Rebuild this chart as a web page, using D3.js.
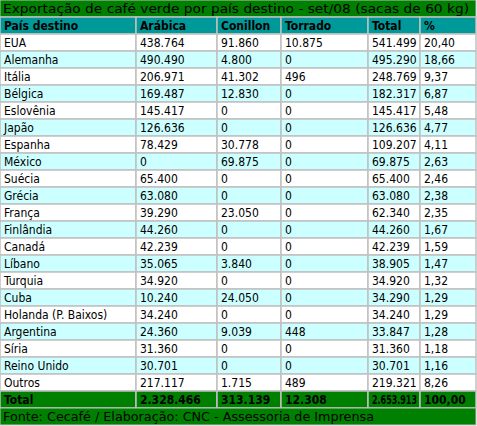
<!DOCTYPE html><html><head><meta charset="utf-8"><script src="https://cdn.jsdelivr.net/npm/d3@7"></script>
<style>body{margin:0;background:#fff}</style></head><body><svg id="c" width="477" height="426"></svg><script>
const title="Exportação de café verde por país destino - set/08 (sacas de 60 kg)";
const headers=["País destino","Arábica","Conillon","Torrado","Total","%"];
const countries=["EUA","Alemanha","Itália","Bélgica","Eslovênia","Japão","Espanha","México","Suécia","Grécia","França","Finlândia","Canadá","Líbano","Turquia","Cuba","Holanda (P. Baixos)","Argentina","Síria","Reino Unido","Outros"];
const arabica=["438.764","490.490","206.971","169.487","145.417","126.636","78.429","0","65.400","63.080","39.290","44.260","42.239","35.065","34.920","10.240","34.240","24.360","31.360","30.701","217.117"];
const conillon=["91.860","4.800","41.302","12.830","0","0","30.778","69.875","0","0","23.050","0","0","3.840","0","24.050","0","9.039","0","0","1.715"];
const torrado=["10.875","0","496","0","0","0","0","0","0","0","0","0","0","0","0","0","0","448","0","0","489"];
const total=["541.499","495.290","248.769","182.317","145.417","126.636","109.207","69.875","65.400","63.080","62.340","44.260","42.239","38.905","34.920","34.290","34.240","33.847","31.360","30.701","219.321"];
const pct=["20,40","18,66","9,37","6,87","5,48","4,77","4,11","2,63","2,46","2,38","2,35","1,67","1,59","1,47","1,32","1,29","1,29","1,28","1,18","1,16","8,26"];
const totalRow=["Total","2.328.466","313.139","12.308","2.653.913","100,00"];
const source="Fonte: Cecafé / Elaboração: CNC - Assessoria de Imprensa";
const colEdges=[0,136,217,281,368,420,476];
const svg=d3.select("#c");
const rows=[{t:"title",cells:[title]},{t:"head",cells:headers}];
countries.forEach((c,i)=>rows.push({t:i%2?"alt":"row",cells:[c,arabica[i],conillon[i],torrado[i],total[i],pct[i]]}));
rows.push({t:"tot",cells:totalRow});rows.push({t:"src",cells:[source]});
const y=d3.scaleLinear().domain([0,rows.length]).range([0,425]);
const fill={title:"#008000",head:"#009999",row:"#ffffff",alt:"#ccffff",tot:"#008000",src:"#008000"};
function fit(t,w){const n=t.node();if(n.getComputedTextLength()>w)t.attr("textLength",w).attr("lengthAdjust","spacingAndGlyphs");}
rows.forEach((r,i)=>{
  const y0=y(i),h=y(i+1)-y(i);
  const bold=["head","tot"].includes(r.t);
  if(r.cells.length===1){
    svg.append("rect").attr("x",0).attr("y",y0).attr("width",476).attr("height",h).attr("fill",fill[r.t]).attr("stroke","#c0c0c0");
    const t=svg.append("text").attr("x",3).attr("y",y0+h/2).attr("dy","0.35em").text(r.cells[0]).attr("font-family","DejaVu Sans").attr("font-size",12.5).attr("fill","#000");
    t.attr("textLength",r.t==="title"?466:371).attr("lengthAdjust","spacingAndGlyphs");
  } else {
    r.cells.forEach((c,j)=>{
      svg.append("rect").attr("x",colEdges[j]).attr("y",y0).attr("width",colEdges[j+1]-colEdges[j]).attr("height",h).attr("fill",fill[r.t]).attr("stroke","#c0c0c0").attr("stroke-width",1.5);
      const t=svg.append("text").attr("x",colEdges[j]+4).attr("y",y0+h/2).attr("dy","0.35em").text(c).attr("font-family","DejaVu Sans Condensed, DejaVu Sans").attr("font-size",12).attr("font-weight",bold?"bold":"normal").attr("fill","#000");
      fit(t,colEdges[j+1]-colEdges[j]-7);
    });
  }
});
</script></body></html>
